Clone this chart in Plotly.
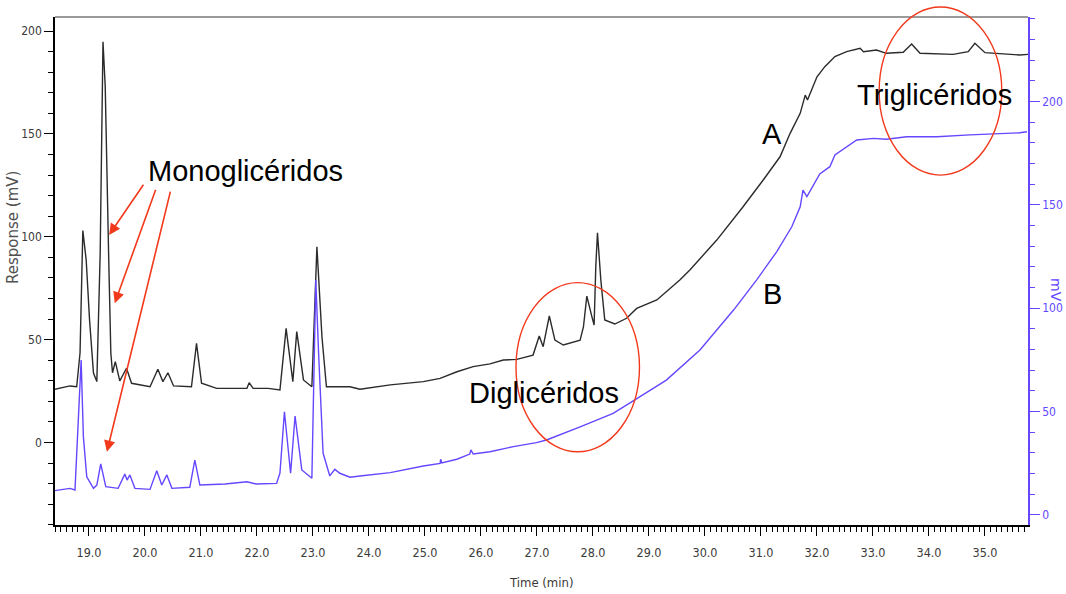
import plotly.graph_objects as go

# Chromatogram A (black, left axis, mV) - retention time in minutes
time_a = [18.39, 18.66, 18.78, 18.84, 18.89, 18.95, 19.01, 19.08, 19.14, 19.20,
          19.25, 19.29, 19.35, 19.39, 19.42, 19.47, 19.55, 19.67, 19.76, 20.09,
          20.23, 20.32, 20.41, 20.51, 20.83, 20.92, 21.01, 21.28, 21.82, 21.86,
          21.93, 22.20, 22.41, 22.52, 22.64, 22.71, 22.83, 22.98, 23.07, 23.16,
          23.24, 23.66, 23.84, 24.38, 24.97, 25.27, 25.57, 25.86, 26.16, 26.40,
          26.64, 26.93, 27.04, 27.11, 27.22, 27.32, 27.47, 27.77, 27.83, 27.89,
          27.98, 28.02, 28.05, 28.08, 28.14, 28.21, 28.39, 28.60, 28.78, 29.14,
          29.55, 29.73, 30.21, 30.68, 31.04, 31.34, 31.52, 31.70, 31.79, 31.83,
          32.00, 32.14, 32.32, 32.53, 32.77, 32.83, 33.06, 33.24, 33.54, 33.69,
          33.84, 34.43, 34.70, 34.82, 35.00, 35.62, 35.77]
resp_a = [25.9, 27.5, 27.1, 43.5, 103.0, 88.7, 59.6, 33.8, 29.6, 92.1,
          194.8, 173.0, 92.1, 43.5, 33.9, 39.3, 30.0, 36.1, 28.8, 27.1,
          35.6, 29.6, 33.9, 27.5, 27.1, 48.2, 28.8, 26.3, 26.3, 29.1,
          26.3, 26.3, 25.5, 55.5, 29.6, 53.9, 30.4, 27.1, 95.2, 51.4,
          27.1, 27.1, 25.9, 28.0, 29.6, 31.2, 34.4, 36.9, 38.2, 40.1,
          40.4, 42.5, 51.8, 46.6, 61.5, 49.8, 47.4, 49.8, 56.3, 71.2,
          61.2, 57.1, 85.5, 102.0, 79.0, 59.6, 57.6, 60.4, 65.2, 69.3,
          79.0, 83.9, 98.4, 114.6, 127.6, 138.9, 150.3, 160.0, 168.9, 166.5,
          177.8, 182.7, 187.6, 190.0, 191.6, 190.0, 190.8, 189.2, 189.7, 193.7,
          189.2, 188.7, 190.0, 194.1, 189.5, 188.4, 188.7]

# Chromatogram B (blue, right axis, mV)
time_b = [18.39, 18.66, 18.75, 18.81, 18.86, 18.90, 18.96, 19.08, 19.14, 19.21,
          19.30, 19.52, 19.64, 19.68, 19.73, 19.82, 20.09, 20.21, 20.30, 20.39,
          20.48, 20.80, 20.89, 20.98, 21.43, 21.82, 21.99, 22.35, 22.41, 22.49,
          22.60, 22.68, 22.80, 22.98, 23.05, 23.10, 23.18, 23.30, 23.39, 23.48,
          23.66, 23.84, 24.38, 24.97, 25.27, 25.28, 25.30, 25.57, 25.80, 25.82,
          25.86, 26.16, 26.58, 26.99, 27.17, 27.77, 28.36, 28.84, 29.31, 29.91,
          30.51, 30.92, 31.28, 31.55, 31.70, 31.75, 31.82, 32.05, 32.23, 32.32,
          32.53, 32.71, 33.01, 33.24, 33.60, 34.14, 34.73, 35.09, 35.62, 35.75]
resp_b = [11.7, 12.8, 12.0, 45.9, 74.9, 37.8, 18.4, 12.8, 14.4, 24.6,
          13.6, 12.8, 19.7, 16.8, 19.3, 12.8, 12.3, 21.3, 14.4, 19.3,
          12.8, 13.3, 26.5, 14.4, 14.9, 16.0, 14.9, 15.2, 20.2, 49.9,
          20.1, 47.8, 21.7, 17.7, 113.6, 78.3, 29.9, 18.8, 22.0, 20.1,
          18.2, 18.8, 20.4, 23.6, 24.9, 26.9, 25.1, 26.9, 29.4, 31.4,
          29.4, 30.5, 33.0, 34.9, 36.2, 42.6, 49.1, 57.2, 65.2, 79.8,
          99.1, 113.6, 127.3, 139.4, 149.1, 157.2, 154.0, 165.0, 168.5, 174.2,
          178.2, 181.4, 182.2, 181.8, 183.0, 183.0, 183.9, 184.3, 184.9, 185.4]

x_ticks = [19.0, 20.0, 21.0, 22.0, 23.0, 24.0, 25.0, 26.0, 27.0, 28.0,
           29.0, 30.0, 31.0, 32.0, 33.0, 34.0, 35.0]
y_ticks = [0, 50, 100, 150, 200]

X_RANGE = [18.393, 35.768]
YL_RANGE = [-40.1, 206.85]
YR_RANGE = [-4.94, 240.95]

BLACK = "#2b2b2b"
BLUE = "#6448ff"
RED = "#f2391c"
AXIS_FONT = "DejaVu Sans Condensed, DejaVu Sans, sans-serif"
TITLE_FONT = "DejaVu Sans, Verdana, sans-serif"
TEXT_FONT = "Liberation Sans, Arial, Helvetica, sans-serif"

W, H = 1066, 594
ML, MR, MT, MB = 55, 38, 17, 69


def ypaper(v):
    """Left-axis value to paper fraction."""
    return (v - YL_RANGE[0]) / (YL_RANGE[1] - YL_RANGE[0])


def px_x(px):
    return (px - ML) / (W - ML - MR)


def px_y(py):
    return (H - MB - py) / (H - MT - MB)


fig = go.Figure()
fig.add_trace(go.Scatter(x=time_a, y=resp_a, mode="lines", name="A",
                         line=dict(color=BLACK, width=1.4), yaxis="y"))
fig.add_trace(go.Scatter(x=time_b, y=resp_b, mode="lines", name="B",
                         line=dict(color=BLUE, width=1.4), yaxis="y2"))

annotations = []
# group labels
for label, x, y in [("Monoglicéridos", 21.80, 132.0),
                    ("Diglicéridos", 27.13, 24.1),
                    ("Triglicéridos", 34.09, 168.9),
                    ("A", 31.19, 150.0),
                    ("B", 31.21, 72.2)]:
    annotations.append(dict(text=label, x=x, y=y, xref="x", yref="y",
                            showarrow=False, xanchor="center", yanchor="middle",
                            font=dict(family=TEXT_FONT, size=29, color="black")))

# arrows from the monoglyceride label to its peaks
for hx, hy, tx, ty in [(19.36, 100.9, 19.99, 126.0),
                       (19.46, 67.7, 20.20, 123.6),
                       (19.32, -4.5, 20.46, 122.7)]:
    annotations.append(dict(text="", x=hx, y=hy, ax=tx, ay=ty,
                            xref="x", yref="y", axref="x", ayref="y",
                            showarrow=True, arrowhead=2, arrowsize=1.4,
                            arrowwidth=1.6, arrowcolor=RED, standoff=0))

# axis titles
annotations.append(dict(text="Response (mV)", x=px_x(13), y=px_y(228),
                        xref="paper", yref="paper", showarrow=False,
                        textangle=-90, xanchor="center", yanchor="middle",
                        font=dict(family=TITLE_FONT, size=15, color="#505050")))
annotations.append(dict(text="mV", x=px_x(1056), y=px_y(290),
                        xref="paper", yref="paper", showarrow=False,
                        textangle=90, xanchor="center", yanchor="middle",
                        font=dict(family=TITLE_FONT, size=14, color=BLUE)))
annotations.append(dict(text="Time (min)", x=px_x(541), y=px_y(582),
                        xref="paper", yref="paper", showarrow=False,
                        xanchor="center", yanchor="middle",
                        font=dict(family=AXIS_FONT, size=13, color="#3a3a3a")))

shapes = [
    # top frame
    dict(type="line", xref="paper", yref="paper", x0=0, x1=1, y0=1, y1=1,
         line=dict(color="#9a9a9a", width=2)),
    # group highlight ellipses
    dict(type="circle", xref="x", yref="paper",
         x0=26.625, x1=28.83, y0=ypaper(-4.5), y1=ypaper(77.7),
         line=dict(color=RED, width=1.4)),
    dict(type="circle", xref="x", yref="paper",
         x0=33.11, x1=35.30, y0=ypaper(130.0), y1=ypaper(211.7),
         line=dict(color=RED, width=1.4)),
]

fig.update_layout(
    width=W, height=H,
    margin=dict(l=ML, r=MR, t=MT, b=MB, autoexpand=False),
    paper_bgcolor="white", plot_bgcolor="white",
    showlegend=False,
    annotations=annotations,
    shapes=shapes,
    xaxis=dict(
        range=X_RANGE, tickvals=x_ticks, ticktext=[f"{v:.1f}" for v in x_ticks],
        automargin=False,
        showgrid=False, zeroline=False, showline=True, linecolor="black", linewidth=1.5,
        ticks="outside", ticklen=9, tickcolor="black", tickwidth=1,
        ticklabelstandoff=6,
        minor=dict(dtick=0.1, tick0=19.0, ticks="outside", ticklen=5,
                   tickcolor="black", tickwidth=1, showgrid=False),
        tickfont=dict(family=AXIS_FONT, size=12.5, color="#3a3a3a"),
    ),
    yaxis=dict(
        range=YL_RANGE, tickvals=y_ticks, automargin=False,
        showgrid=False, zeroline=False,
        showline=True, linecolor="black", linewidth=1.5,
        ticks="outside", ticklen=9, tickcolor="black", tickwidth=1,
        minor=dict(dtick=10, tick0=0, ticks="outside", ticklen=5,
                   tickcolor="black", tickwidth=1, showgrid=False),
        tickfont=dict(family=AXIS_FONT, size=12, color="#3a3a3a"),
    ),
    yaxis2=dict(
        range=YR_RANGE, tickvals=y_ticks, overlaying="y", side="right", anchor="x",
        automargin=False,
        showgrid=False, zeroline=False, showline=True, linecolor=BLUE, linewidth=1.5,
        ticks="outside", ticklen=10, tickcolor=BLUE, tickwidth=1,
        minor=dict(dtick=10, tick0=0, ticks="outside", ticklen=5,
                   tickcolor=BLUE, tickwidth=1, showgrid=False),
        tickfont=dict(family=AXIS_FONT, size=12, color=BLUE),
    ),
)

fig.write_html("out.html")
